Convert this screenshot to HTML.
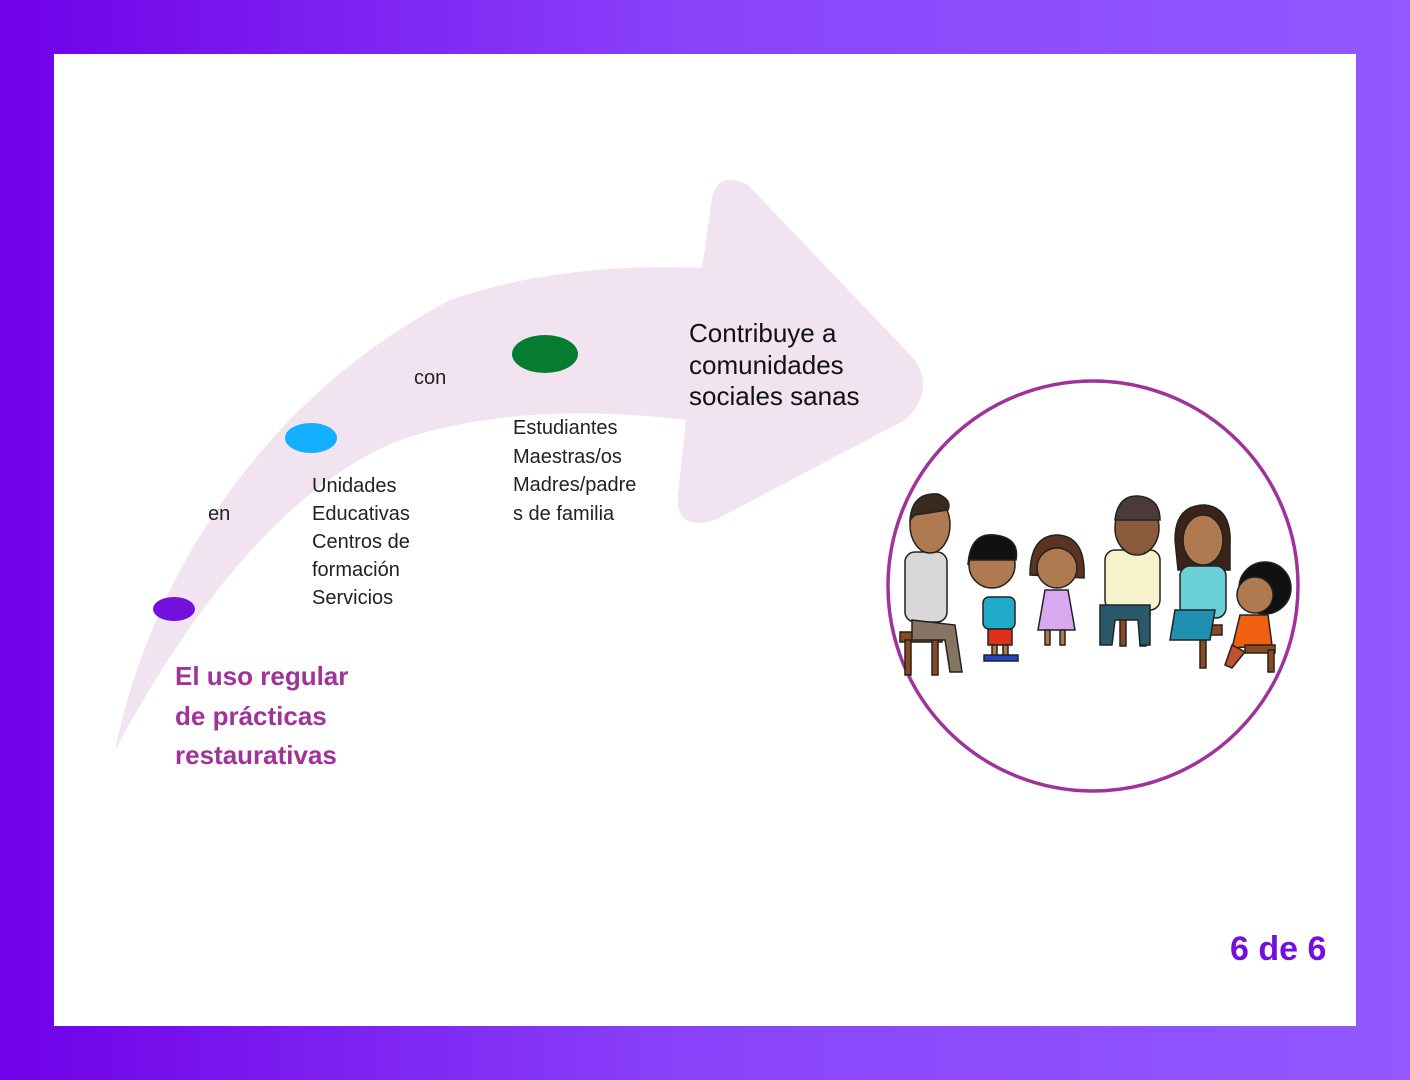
<!DOCTYPE html>
<html><head><meta charset="utf-8"><style>
html,body{margin:0;padding:0;}
body{width:1410px;height:1080px;background:linear-gradient(90deg,#7000e8 0%,#8a44fb 50%,#9358ff 100%);position:relative;overflow:hidden;font-family:"Liberation Sans",sans-serif;}
.panel{position:absolute;left:54px;top:54px;width:1302px;height:972px;background:#fff;}
.t{position:absolute;color:#222;font-size:20px;line-height:28px;}
</style></head><body>
<div class="panel"></div>
<svg width="1410" height="1080" style="position:absolute;left:0;top:0">
<path d="M115,750 C150,580 260,400 450,300 Q560,262 702,268 L712,198 Q718,170 748,185 L915,360 Q935,392 905,420 L715,520 Q675,532 678,495 L686,420 Q520,400 400,440 Q250,500 115,750 Z" fill="#f1e3f0"/>
<ellipse cx="174" cy="609" rx="21" ry="12" fill="#7410dc"/>
<ellipse cx="311" cy="438" rx="26" ry="15" fill="#12b0ff"/>
<ellipse cx="545" cy="354" rx="33" ry="19" fill="#067c30"/>
<circle cx="1093" cy="586" r="205" fill="none" stroke="#a0339a" stroke-width="3.5"/>
<g stroke="#222" stroke-width="1.5">
<rect x="900" y="632" width="42" height="10" fill="#8a4a20"/><rect x="905" y="640" width="6" height="35" fill="#8a4a20"/><rect x="932" y="640" width="6" height="35" fill="#8a4a20"/>
<rect x="905" y="552" width="42" height="70" rx="10" fill="#d8d8d8"/>
<path d="M912,620 L955,625 L962,672 L950,672 L945,640 L912,640Z" fill="#857460"/>
<ellipse cx="930" cy="525" rx="20" ry="28" fill="#b07a50"/><path d="M910,520 Q912,492 938,494 Q952,500 948,510 L915,515Z" fill="#3a2a20"/>
<circle cx="992" cy="565" r="23" fill="#b07a50"/><path d="M968,565 Q970,532 995,535 Q1020,538 1016,560 L970,560Z" fill="#111"/>
<rect x="983" y="597" width="32" height="32" rx="6" fill="#22aacc"/><rect x="988" y="629" width="24" height="16" fill="#e0301a"/>
<rect x="992" y="645" width="5" height="12" fill="#b07a50"/><rect x="1003" y="645" width="5" height="12" fill="#b07a50"/><rect x="984" y="655" width="34" height="6" fill="#2244cc"/>
<path d="M1030,575 Q1030,535 1058,535 Q1086,537 1084,578Z" fill="#5a3420"/><circle cx="1057" cy="568" r="20" fill="#b07a50"/>
<path d="M1045,590 L1068,590 L1075,630 L1038,630Z" fill="#d8a8f0"/>
<rect x="1045" y="630" width="5" height="15" fill="#b07a50"/><rect x="1060" y="630" width="5" height="15" fill="#b07a50"/>
<rect x="1115" y="605" width="35" height="10" fill="#8a4a20"/><rect x="1120" y="613" width="6" height="33" fill="#8a4a20"/><rect x="1140" y="613" width="6" height="33" fill="#8a4a20"/>
<rect x="1105" y="550" width="55" height="60" rx="10" fill="#f6f3cc"/>
<path d="M1100,605 L1150,605 L1150,645 L1140,645 L1138,620 L1115,620 L1112,645 L1100,645Z" fill="#2a5a6a"/>
<ellipse cx="1137" cy="528" rx="22" ry="27" fill="#8a5a3a"/><path d="M1115,520 Q1118,495 1138,496 Q1160,498 1160,520Z" fill="#4a3a3a"/>
<rect x="1180" y="625" width="42" height="10" fill="#8a4a20"/><rect x="1200" y="633" width="6" height="35" fill="#8a4a20"/>
<path d="M1175,540 Q1175,505 1205,505 Q1232,508 1230,545 L1230,570 L1178,570Z" fill="#3a2418"/>
<ellipse cx="1203" cy="540" rx="20" ry="25" fill="#b07a50"/>
<rect x="1180" y="566" width="46" height="52" rx="10" fill="#6ad0d8"/>
<path d="M1175,610 L1215,610 L1210,640 L1170,640Z" fill="#2090b0"/>
<circle cx="1265" cy="588" r="26" fill="#111"/><circle cx="1255" cy="595" r="18" fill="#b07a50"/>
<path d="M1240,615 L1268,615 L1272,645 L1232,648Z" fill="#f06010"/>
<rect x="1245" y="645" width="30" height="8" fill="#8a4a20"/><rect x="1268" y="650" width="6" height="22" fill="#8a4a20"/>
<path d="M1232,645 L1225,665 L1232,668 L1245,652Z" fill="#c05030"/>
</g>
</svg>
<div class="t" style="left:208px;top:500px">en</div>
<div class="t" style="left:414px;top:364px">con</div>
<div class="t" style="left:312px;top:472px">Unidades<br>Educativas<br>Centros de<br>formación<br>Servicios</div>
<div class="t" style="left:513px;top:414px;line-height:28.5px">Estudiantes<br>Maestras/os<br>Madres/padre<br>s de familia</div>
<div class="t" style="left:689px;top:318px;font-size:26px;line-height:31.5px;color:#111">Contribuye a<br>comunidades<br>sociales sanas</div>
<div class="t" style="left:175px;top:657px;font-size:26px;line-height:39.5px;color:#a0339a;font-weight:bold">El uso regular<br>de prácticas<br>restaurativas</div>
<div class="t" style="left:1230px;top:929px;font-size:34px;line-height:40px;color:#7410dc;font-weight:bold">6 de 6</div>
</body></html>
